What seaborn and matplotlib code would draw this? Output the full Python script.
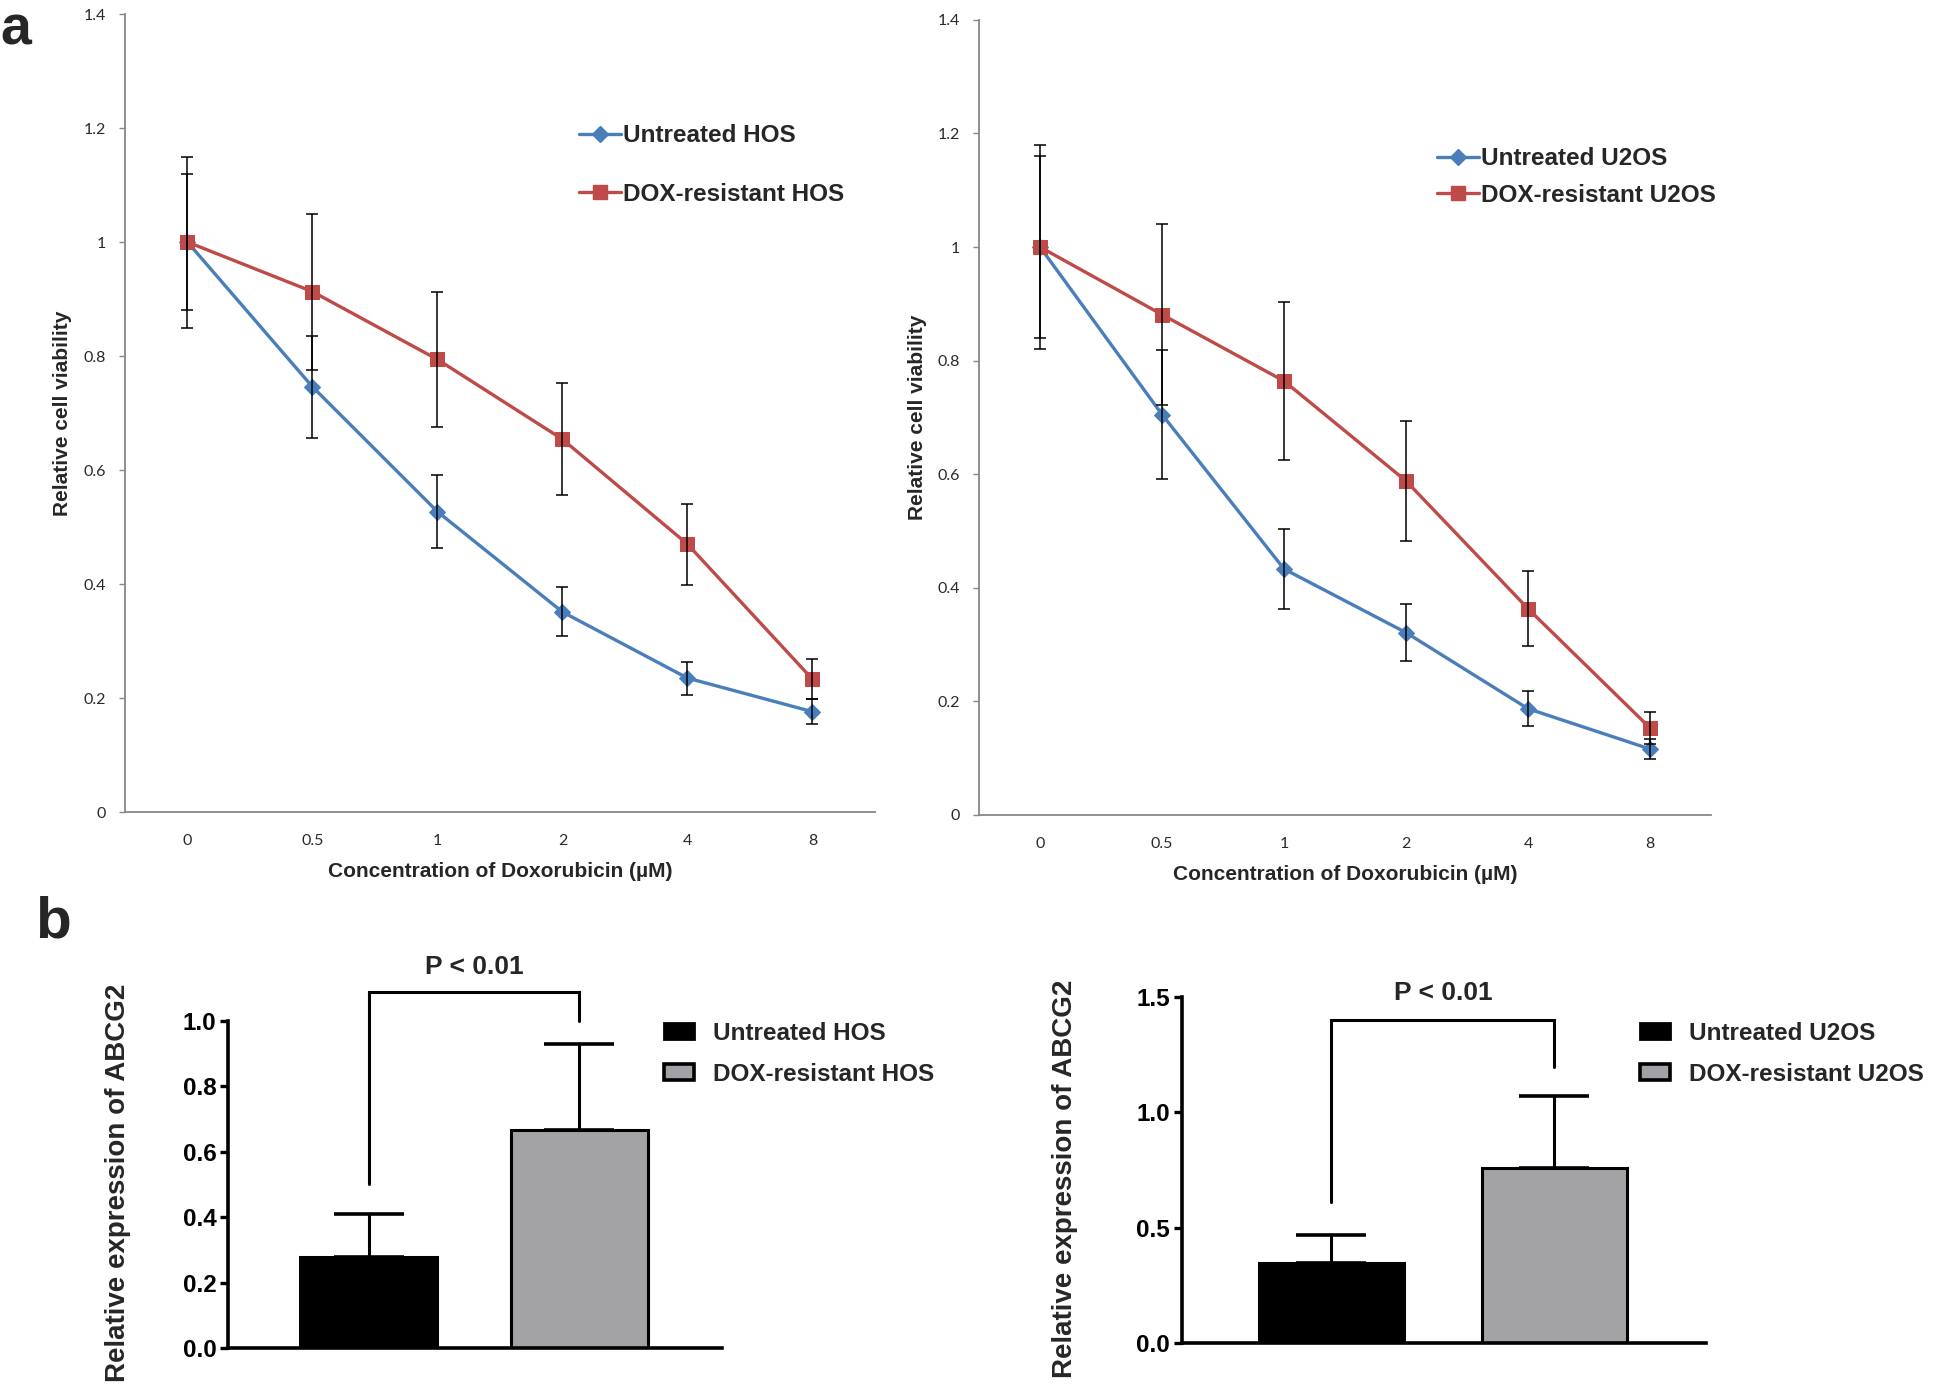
import matplotlib
matplotlib.use('Agg')
import matplotlib.pyplot as plt
import seaborn as sns
import pandas as pd
import numpy as np
from matplotlib.lines import Line2D
from matplotlib.patches import Patch

# ---- data ----
conc = ['0', '0.5', '1', '2', '4', '8']

hos_untreated = [1.0, 0.746, 0.527, 0.351, 0.235, 0.176]
hos_untreated_err = [0.12, 0.09, 0.064, 0.043, 0.029, 0.022]
hos_resistant = [1.0, 0.913, 0.794, 0.654, 0.470, 0.233]
hos_resistant_err = [0.15, 0.137, 0.119, 0.098, 0.071, 0.035]

u2os_untreated = [1.0, 0.705, 0.433, 0.321, 0.187, 0.116]
u2os_untreated_err = [0.16, 0.114, 0.07, 0.05, 0.031, 0.017]
u2os_resistant = [1.0, 0.881, 0.764, 0.588, 0.363, 0.153]
u2os_resistant_err = [0.18, 0.159, 0.139, 0.106, 0.066, 0.028]

groups = ['Untreated', 'DOX-resistant']
abcg2_hos = [0.278, 0.667]
abcg2_hos_sd = [0.132, 0.263]
abcg2_u2os = [0.346, 0.757]
abcg2_u2os_sd = [0.123, 0.313]

BLUE = '#4A7EBB'
RED = '#BE4B48'
GREY = '#a2a2a6'
AXGREY = '#878787'
BOLD = 'Liberation Sans'

sns.set_theme(style='white')
plt.rcParams['font.family'] = ['Lato', 'DejaVu Sans']

fig = plt.figure(figsize=(19.46, 13.89), dpi=100)


def viability_panel(ax, names, untr, untr_err, res, res_err, leg_anchor, leg_spacing):
    df = pd.DataFrame({'pos': range(len(conc)), 'conc': conc,
                       'untr': untr, 'res': res})
    sns.lineplot(data=df, x='pos', y='untr', ax=ax, color=BLUE, marker='D',
                 markersize=8.5, markeredgecolor=BLUE, linewidth=2.4, zorder=3)
    sns.lineplot(data=df, x='pos', y='res', ax=ax, color=RED, marker='s',
                 markersize=10.5, markeredgecolor=RED, linewidth=2.4, zorder=3)
    for vals, errs in [(untr, untr_err), (res, res_err)]:
        ax.errorbar(df['pos'], vals, yerr=errs, fmt='none', ecolor='black',
                    elinewidth=1.1, capsize=4.5, capthick=1.1, zorder=4)

    ax.set_xlim(-0.5, len(conc) - 0.5)
    ax.set_ylim(0, 1.4)
    ax.set_xticks(df['pos'])
    ax.set_xticklabels(conc)
    yt = np.round(np.arange(0, 1.41, 0.2), 1)
    ax.set_yticks(yt)
    ax.set_yticklabels([f'{v:g}' for v in yt])
    for s in ['top', 'right']:
        ax.spines[s].set_visible(False)
    for s in ['left', 'bottom']:
        ax.spines[s].set_color(AXGREY)
        ax.spines[s].set_linewidth(1.3)
    ax.tick_params(axis='y', left=True, length=4.5, width=1, color=AXGREY,
                   pad=9, labelsize=11.5, labelcolor='#2a2a2a')
    ax.tick_params(axis='x', bottom=False, length=0, pad=16, labelsize=11.5,
                   labelcolor='#2a2a2a')
    ax.set_xlabel('Concentration of Doxorubicin (µM)', family=BOLD,
                  fontsize=15, fontweight='bold')
    ax.set_ylabel('Relative cell viability', family=BOLD, fontsize=15,
                  fontweight='bold')
    ax.xaxis.set_label_coords(0.5, -0.063)
    ax.yaxis.set_label_coords(-0.071, 0.5)

    handles = [Line2D([], [], color=BLUE, marker='D', markersize=8.5, lw=2.4),
               Line2D([], [], color=RED, marker='s', markersize=10.5, lw=2.4)]
    ax.legend(handles, names, loc='upper left', bbox_to_anchor=leg_anchor,
              bbox_transform=fig.transFigure, frameon=False, borderpad=0,
              borderaxespad=0, handlelength=1.75, handletextpad=0.05,
              labelspacing=leg_spacing, numpoints=1,
              prop={'family': BOLD, 'weight': 'bold', 'size': 17.5})


def abcg2_panel(ax, names, vals, sds, ymax, yticks, bracket, p_y, leg_anchor):
    df = pd.DataFrame({'group': groups, 'expr': vals})
    sns.barplot(data=df, x='group', y='expr', hue='group',
                palette=['black', GREY], edgecolor='black', linewidth=2.2,
                width=0.652, legend=False, ax=ax)
    ax.errorbar([0, 1], vals, yerr=[[0, 0], sds], fmt='none', ecolor='black',
                elinewidth=2.2, capsize=25, capthick=2.6, zorder=3)
    ax.set_xlim(-0.67, 1.68)
    ax.set_ylim(0, ymax)
    ax.set_xticks([])
    ax.set_yticks(yticks)
    ax.set_yticklabels([f'{v:.1f}' for v in yticks], family=BOLD, weight='bold')
    ax.set_xlabel('')
    ax.set_ylabel('Relative expression of ABCG2', family=BOLD,
                  fontsize=20, fontweight='bold')
    for s in ['top', 'right']:
        ax.spines[s].set_visible(False)
    for s in ['left', 'bottom']:
        ax.spines[s].set_color('black')
        ax.spines[s].set_linewidth(2.6)
    ax.tick_params(axis='y', left=True, length=5.5, width=2.4, color='black',
                   pad=3, labelsize=17.5, labelcolor='black')

    left_low, top, right_low = bracket
    ax.plot([0, 0, 1, 1], [left_low, top, top, right_low], color='black',
            lw=2.2, clip_on=False, solid_joinstyle='miter')
    ax.text(0.5, p_y, 'P < 0.01', ha='center', va='center',
            family=BOLD, fontsize=19, fontweight='bold')

    handles = [Patch(facecolor='black', edgecolor='black', lw=2),
               Patch(facecolor=GREY, edgecolor='black', lw=2.6)]
    ax.legend(handles, names, loc='upper left', bbox_to_anchor=leg_anchor,
              bbox_transform=fig.transFigure, frameon=False, borderpad=0,
              borderaxespad=0, handlelength=1.25, handleheight=0.62,
              handletextpad=0.75, labelspacing=0.75,
              prop={'family': BOLD, 'weight': 'bold', 'size': 17.5})


ax1 = fig.add_axes([0.0642, 0.4154, 0.3854, 0.5745])
ax2 = fig.add_axes([0.5031, 0.4133, 0.3762, 0.5724])
ax3 = fig.add_axes([0.1172, 0.0295, 0.2539, 0.2354])
ax4 = fig.add_axes([0.6074, 0.0331, 0.2693, 0.2491])

viability_panel(ax1, ['Untreated HOS', 'DOX-resistant HOS'],
                hos_untreated, hos_untreated_err, hos_resistant, hos_resistant_err,
                (0.2975, 0.9105), 1.45)
viability_panel(ax2, ['Untreated U2OS', 'DOX-resistant U2OS'],
                u2os_untreated, u2os_untreated_err, u2os_resistant, u2os_resistant_err,
                (0.7384, 0.8940), 0.55)

abcg2_panel(ax3, ['Untreated HOS', 'DOX-resistant HOS'], abcg2_hos, abcg2_hos_sd,
            1.0, [0.0, 0.2, 0.4, 0.6, 0.8, 1.0], (0.502, 1.088, 1.0), 1.165,
            (0.3412, 0.2645))
abcg2_panel(ax4, ['Untreated U2OS', 'DOX-resistant U2OS'], abcg2_u2os, abcg2_u2os_sd,
            1.5, [0.0, 0.5, 1.0, 1.5], (0.613, 1.402, 1.197), 1.517,
            (0.8427, 0.2645))
ax3.yaxis.set_label_coords(-0.196, 0.505)
ax4.yaxis.set_label_coords(-0.198, 0.475)

fig.text(0.0, 0.968, 'a', family=BOLD, fontsize=40, fontweight='bold',
         va='baseline', ha='left')
fig.text(0.018, 0.3254, 'b', family=BOLD, fontsize=42,
         fontweight='bold', va='baseline', ha='left')

fig.savefig('out.png', dpi=100)
